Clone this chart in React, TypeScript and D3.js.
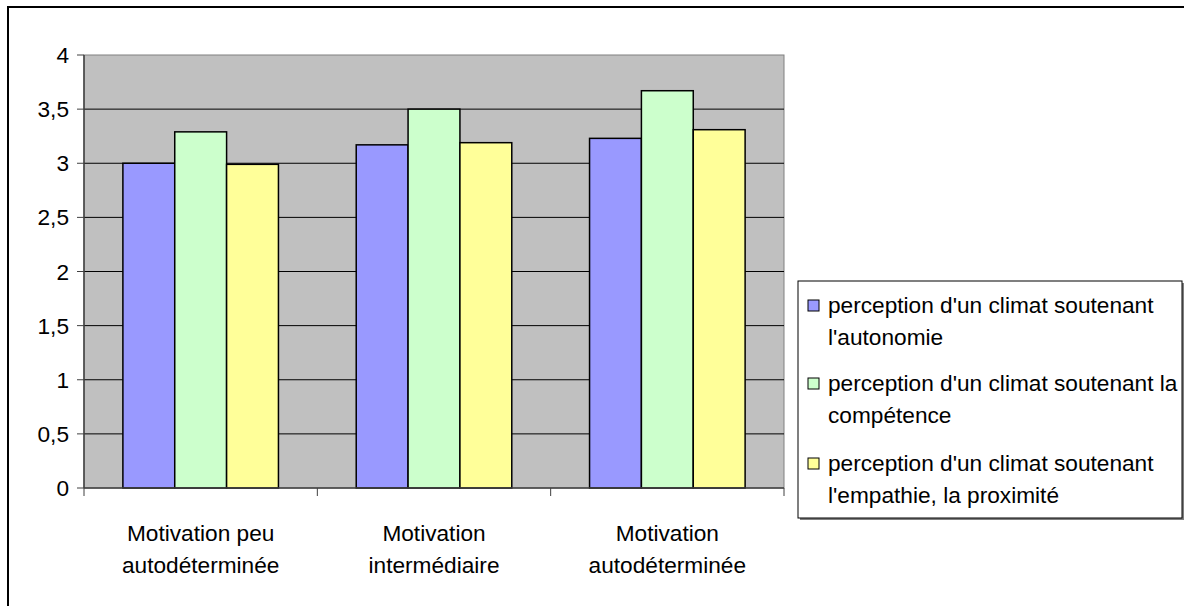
import React from 'react';
import * as d3 from 'd3';

// values
const categories = ['peu', 'intermediaire', 'auto'];
const categoryLabels = [
  ['Motivation peu', 'autodéterminée'],
  ['Motivation', 'intermédiaire'],
  ['Motivation', 'autodéterminée'],
];
const seriesKeys = ['autonomie', 'competence', 'empathie'];
const autonomie = [3.0, 3.17, 3.23];
const competence = [3.29, 3.5, 3.67];
const empathie = [2.99, 3.19, 3.31];
const legendLabels = [
  ["perception d'un climat soutenant", "l'autonomie"],
  ["perception d'un climat soutenant la", 'compétence'],
  ["perception d'un climat soutenant", "l'empathie, la proximité"],
];
const yTickValues = [0, 0.5, 1, 1.5, 2, 2.5, 3, 3.5, 4];

const colors = ['#9999FF', '#CCFFCC', '#FFFF99'];
const FONT = '"Liberation Sans", Arial, sans-serif';

const W = 1184;
const H = 606;
const plot = { left: 84, right: 784, top: 55, bottom: 488 };

const fmt = (v: number) => String(v).replace('.', ',');

const Label = (props: {
  x: number;
  y: number;
  anchor: 'start' | 'middle' | 'end';
  children: string;
}) => (
  <text
    transform={`translate(${props.x},${props.y}) scale(1.03,1)`}
    textAnchor={props.anchor}
    fontFamily={FONT}
    fontSize={22}
    fill="#000"
  >
    {props.children}
  </text>
);

export default function App() {
  const values = [autonomie, competence, empathie];

  const y = d3.scaleLinear().domain([0, 4]).range([plot.bottom, plot.top]);
  const x0 = d3
    .scaleBand<string>()
    .domain(categories)
    .range([plot.left, plot.right])
    .padding(0);
  const x1 = d3
    .scaleBand<string>()
    .domain(seriesKeys)
    .range([0, x0.bandwidth()])
    .paddingInner(0)
    .paddingOuter(0.75);

  const catEdges = categories.map((c) => x0(c)!).concat([plot.right]);

  const legend = { x: 798, y: 281, w: 384, h: 237 };
  const entryTop = [313, 391, 471];

  return (
    <svg
      width={W}
      height={H}
      style={{ position: 'absolute', left: 0, top: 0, background: '#fff' }}
    >
      {/* chart area border, right and bottom edges fall outside */}
      <rect
        x={8}
        y={7}
        width={W + 20}
        height={H + 20}
        fill="#fff"
        stroke="#000"
        strokeWidth={2}
      />

      <rect
        x={plot.left}
        y={plot.top}
        width={plot.right - plot.left}
        height={plot.bottom - plot.top}
        fill="#C0C0C0"
        stroke="#808080"
        strokeWidth={1}
      />

      {yTickValues
        .filter((v) => v > 0 && v < 4)
        .map((v) => (
          <line
            key={'g' + v}
            x1={plot.left}
            x2={plot.right}
            y1={y(v)}
            y2={y(v)}
            stroke="#000"
            strokeWidth={1}
          />
        ))}

      {categories.map((c, ci) =>
        seriesKeys.map((s, si) => {
          const v = values[si][ci];
          return (
            <rect
              key={c + s}
              x={x0(c)! + x1(s)!}
              y={y(v)}
              width={x1.bandwidth()}
              height={y(0) - y(v)}
              fill={colors[si]}
              stroke="#000"
              strokeWidth={1.5}
            />
          );
        })
      )}

      {/* y axis */}
      <line
        x1={plot.left}
        x2={plot.left}
        y1={plot.top}
        y2={plot.bottom}
        stroke="#404040"
        strokeWidth={1.5}
      />
      {yTickValues.map((v) => (
        <g key={'t' + v}>
          <line
            x1={plot.left - 7}
            x2={plot.left}
            y1={y(v)}
            y2={y(v)}
            stroke="#404040"
            strokeWidth={1}
          />
          <Label x={69} y={y(v) + 8} anchor="end">
            {fmt(v)}
          </Label>
        </g>
      ))}

      {/* x axis */}
      <line
        x1={plot.left}
        x2={plot.right}
        y1={plot.bottom}
        y2={plot.bottom}
        stroke="#404040"
        strokeWidth={1.5}
      />
      {catEdges.map((ex, i) => (
        <line
          key={'c' + i}
          x1={ex}
          x2={ex}
          y1={plot.bottom}
          y2={plot.bottom + 8}
          stroke="#404040"
          strokeWidth={1}
        />
      ))}
      {categories.map((c, i) => {
        const cx = x0(c)! + x0.bandwidth() / 2;
        return (
          <g key={'l' + c}>
            <Label x={cx} y={541} anchor="middle">
              {categoryLabels[i][0]}
            </Label>
            <Label x={cx} y={573} anchor="middle">
              {categoryLabels[i][1]}
            </Label>
          </g>
        );
      })}

      {/* legend with its shadow */}
      <rect
        x={legend.x + 2}
        y={legend.y + 2}
        width={legend.w}
        height={legend.h}
        fill="#808080"
      />
      <rect
        x={legend.x}
        y={legend.y}
        width={legend.w}
        height={legend.h}
        fill="#fff"
        stroke="#000"
        strokeWidth={1}
      />
      {seriesKeys.map((s, i) => (
        <g key={'lg' + s}>
          <rect
            x={808}
            y={entryTop[i] - 13}
            width={11}
            height={11}
            fill={colors[i]}
            stroke="#000"
            strokeWidth={1}
          />
          <Label x={828} y={entryTop[i]} anchor="start">
            {legendLabels[i][0]}
          </Label>
          <Label x={828} y={entryTop[i] + 32} anchor="start">
            {legendLabels[i][1]}
          </Label>
        </g>
      ))}
    </svg>
  );
}
